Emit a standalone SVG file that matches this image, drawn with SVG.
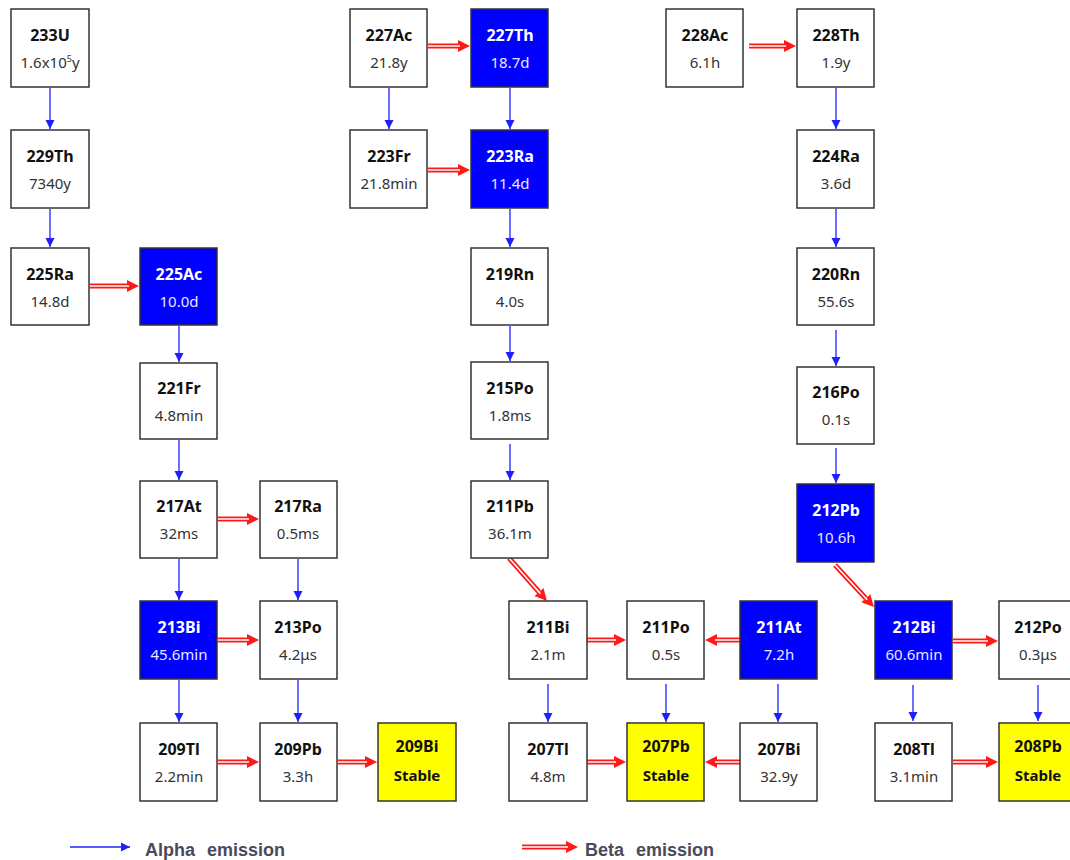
<svg xmlns="http://www.w3.org/2000/svg" width="1070" height="860" viewBox="0 0 1070 860">
<style>
.box{fill:#fff;stroke:#333;stroke-width:1.5}
.blue{fill:#0000ff}
.yel{fill:#ffff00}
text{font-family:"Noto Sans","DejaVu Sans",sans-serif;text-anchor:middle}
.lbl{font-size:16px;font-weight:bold;fill:#111}
.hl{font-size:15px;fill:#333}
.st{font-size:15px;font-weight:bold;fill:#111}
.w .lbl{fill:#fff}
.w .hl{fill:#e8e8ff}
.a{stroke:#2020ff;stroke-width:1.3;fill:none;marker-end:url(#ah)}
.b{stroke:#ff1a1a;stroke-width:5;fill:none;marker-end:url(#bh)}
.bw{stroke:#fff;stroke-width:1.5;fill:none}
.leg{font-family:"Liberation Sans","DejaVu Sans",sans-serif;font-size:18px;font-weight:bold;fill:#4a4a5c;text-anchor:start;word-spacing:7px}
</style>
<defs>
<marker id="ah" markerUnits="userSpaceOnUse" markerWidth="10" markerHeight="10" refX="9" refY="5" orient="auto"><path d="M0,0.5 L9,5 L0,9.5 z" fill="#2020ff"/></marker>
<marker id="bh" markerUnits="userSpaceOnUse" markerWidth="13" markerHeight="13" refX="0" refY="6.5" orient="auto"><path d="M0,0.5 L12,6.5 L0,12.5 z" fill="#ff1a1a"/></marker>
</defs>
<rect width="1070" height="860" fill="#fff"/>

<g id="connectors">
<path class="a" d="M50,88 V129"/>
<path class="a" d="M50,209 V247"/>
<path class="a" d="M179,326 V362"/>
<path class="a" d="M179,440 V480"/>
<path class="a" d="M179,559 V600"/>
<path class="a" d="M298,559 V600"/>
<path class="a" d="M179,680 V722"/>
<path class="a" d="M298,680 V722"/>
<path class="a" d="M389,88 V129"/>
<path class="a" d="M510,88 V129"/>
<path class="a" d="M510,209 V247"/>
<path class="a" d="M510,326 V361"/>
<path class="a" d="M510,444 V480"/>
<path class="a" d="M548,684 V722"/>
<path class="a" d="M666,684 V722"/>
<path class="a" d="M778,684 V722"/>
<path class="a" d="M836,88 V129"/>
<path class="a" d="M836,209 V247"/>
<path class="a" d="M836,330 V366"/>
<path class="a" d="M836,448 V483"/>
<path class="a" d="M913,685 V721"/>
<path class="a" d="M1038,685 V721"/>

<path class="b" d="M90,286 H127"/><path class="bw" d="M90,286 H129"/>
<path class="b" d="M428,46 H458"/><path class="bw" d="M428,46 H460"/>
<path class="b" d="M428,170 H458"/><path class="bw" d="M428,170 H460"/>
<path class="b" d="M749,46 H784"/><path class="bw" d="M749,46 H786"/>
<path class="b" d="M218,519 H247"/><path class="bw" d="M218,519 H249"/>
<path class="b" d="M218,640 H247"/><path class="bw" d="M218,640 H249"/>
<path class="b" d="M218,762 H247"/><path class="bw" d="M218,762 H249"/>
<path class="b" d="M338,762 H365"/><path class="bw" d="M338,762 H367"/>
<path class="b" d="M584,640 H614"/><path class="bw" d="M584,640 H616"/>
<path class="b" d="M740,640 H717"/><path class="bw" d="M740,640 H715"/>
<path class="b" d="M584,762 H614"/><path class="bw" d="M584,762 H616"/>
<path class="b" d="M740,762 H717"/><path class="bw" d="M740,762 H715"/>
<path class="b" d="M953,641 H986"/><path class="bw" d="M953,641 H988"/>
<path class="b" d="M953,762 H986"/><path class="bw" d="M953,762 H988"/>
<path class="b" d="M509,558 L539,592"/><path class="bw" d="M509,558 L540.5,593.7"/>
<path class="b" d="M835,565 L865.8,598.2"/><path class="bw" d="M835,565 L867.2,599.7"/>
</g>

<g id="n233U"><rect class="box" x="11" y="9" width="78" height="78"/><text class="lbl" x="50" y="41">233U</text><text class="hl" x="50" y="68">1.6x10<tspan font-size="9" dy="-6">5</tspan><tspan dy="6">y</tspan></text></g>
<g id="n229Th"><rect class="box" x="11" y="130" width="78" height="78"/><text class="lbl" x="50" y="162">229Th</text><text class="hl" x="50" y="189">7340y</text></g>
<g id="n225Ra"><rect class="box" x="11" y="248" width="78" height="77"/><text class="lbl" x="50" y="280">225Ra</text><text class="hl" x="50" y="307">14.8d</text></g>
<g id="n225Ac" class="w"><rect class="box blue" x="140" y="248" width="77" height="77"/><text class="lbl" x="179" y="280">225Ac</text><text class="hl" x="179" y="307">10.0d</text></g>
<g id="n221Fr"><rect class="box" x="140" y="363" width="77" height="76"/><text class="lbl" x="179" y="394">221Fr</text><text class="hl" x="179" y="421">4.8min</text></g>
<g id="n217At"><rect class="box" x="140" y="481" width="77" height="77"/><text class="lbl" x="179" y="512">217At</text><text class="hl" x="179" y="539">32ms</text></g>
<g id="n213Bi" class="w"><rect class="box blue" x="140" y="601" width="77" height="78"/><text class="lbl" x="179" y="633">213Bi</text><text class="hl" x="179" y="660">45.6min</text></g>
<g id="n209Tl"><rect class="box" x="140" y="723" width="77" height="78"/><text class="lbl" x="179" y="755">209Tl</text><text class="hl" x="179" y="782">2.2min</text></g>
<g id="n217Ra"><rect class="box" x="260" y="481" width="77" height="77"/><text class="lbl" x="298" y="512">217Ra</text><text class="hl" x="298" y="539">0.5ms</text></g>
<g id="n213Po"><rect class="box" x="260" y="601" width="77" height="78"/><text class="lbl" x="298" y="633">213Po</text><text class="hl" x="298" y="660">4.2μs</text></g>
<g id="n209Pb"><rect class="box" x="260" y="723" width="77" height="78"/><text class="lbl" x="298" y="755">209Pb</text><text class="hl" x="298" y="782">3.3h</text></g>
<g id="n209Bi"><rect class="box yel" x="378" y="723" width="78" height="78"/><text class="lbl" x="417" y="752">209Bi</text><text class="st" x="417" y="781">Stable</text></g>

<g id="n227Ac"><rect class="box" x="350" y="9" width="77" height="78"/><text class="lbl" x="389" y="41">227Ac</text><text class="hl" x="389" y="68">21.8y</text></g>
<g id="n223Fr"><rect class="box" x="350" y="130" width="77" height="78"/><text class="lbl" x="389" y="162">223Fr</text><text class="hl" x="389" y="189">21.8min</text></g>
<g id="n227Th" class="w"><rect class="box blue" x="471" y="9" width="77" height="78"/><text class="lbl" x="510" y="41">227Th</text><text class="hl" x="510" y="68">18.7d</text></g>
<g id="n223Ra" class="w"><rect class="box blue" x="471" y="130" width="77" height="78"/><text class="lbl" x="510" y="162">223Ra</text><text class="hl" x="510" y="189">11.4d</text></g>
<g id="n219Rn"><rect class="box" x="471" y="248" width="77" height="77"/><text class="lbl" x="510" y="280">219Rn</text><text class="hl" x="510" y="307">4.0s</text></g>
<g id="n215Po"><rect class="box" x="471" y="362" width="77" height="77"/><text class="lbl" x="510" y="394">215Po</text><text class="hl" x="510" y="421">1.8ms</text></g>
<g id="n211Pb"><rect class="box" x="471" y="481" width="77" height="77"/><text class="lbl" x="510" y="512">211Pb</text><text class="hl" x="510" y="539">36.1m</text></g>
<g id="n211Bi"><rect class="box" x="509" y="601" width="78" height="78"/><text class="lbl" x="548" y="633">211Bi</text><text class="hl" x="548" y="660">2.1m</text></g>
<g id="n207Tl"><rect class="box" x="509" y="723" width="78" height="78"/><text class="lbl" x="548" y="755">207Tl</text><text class="hl" x="548" y="782">4.8m</text></g>
<g id="n211Po"><rect class="box" x="627" y="601" width="77" height="78"/><text class="lbl" x="666" y="633">211Po</text><text class="hl" x="666" y="660">0.5s</text></g>
<g id="n207Pb"><rect class="box yel" x="627" y="723" width="77" height="78"/><text class="lbl" x="666" y="752">207Pb</text><text class="st" x="666" y="781">Stable</text></g>
<g id="n211At" class="w"><rect class="box blue" x="740" y="601" width="77" height="78"/><text class="lbl" x="779" y="633">211At</text><text class="hl" x="779" y="660">7.2h</text></g>
<g id="n207Bi"><rect class="box" x="740" y="723" width="77" height="78"/><text class="lbl" x="779" y="755">207Bi</text><text class="hl" x="779" y="782">32.9y</text></g>

<g id="n228Ac"><rect class="box" x="666" y="9" width="77" height="78"/><text class="lbl" x="705" y="41">228Ac</text><text class="hl" x="705" y="68">6.1h</text></g>
<g id="n228Th"><rect class="box" x="797" y="9" width="77" height="78"/><text class="lbl" x="836" y="41">228Th</text><text class="hl" x="836" y="68">1.9y</text></g>
<g id="n224Ra"><rect class="box" x="797" y="130" width="77" height="78"/><text class="lbl" x="836" y="162">224Ra</text><text class="hl" x="836" y="189">3.6d</text></g>
<g id="n220Rn"><rect class="box" x="797" y="248" width="77" height="77"/><text class="lbl" x="836" y="280">220Rn</text><text class="hl" x="836" y="307">55.6s</text></g>
<g id="n216Po"><rect class="box" x="797" y="367" width="77" height="77"/><text class="lbl" x="836" y="398">216Po</text><text class="hl" x="836" y="425">0.1s</text></g>
<g id="n212Pb" class="w"><rect class="box blue" x="797" y="484" width="77" height="78"/><text class="lbl" x="836" y="516">212Pb</text><text class="hl" x="836" y="543">10.6h</text></g>
<g id="n212Bi" class="w"><rect class="box blue" x="875" y="601" width="77" height="78"/><text class="lbl" x="914" y="633">212Bi</text><text class="hl" x="914" y="660">60.6min</text></g>
<g id="n208Tl"><rect class="box" x="875" y="723" width="77" height="78"/><text class="lbl" x="914" y="755">208Tl</text><text class="hl" x="914" y="782">3.1min</text></g>
<g id="n212Po"><rect class="box" x="999" y="601" width="78" height="78"/><text class="lbl" x="1038" y="633">212Po</text><text class="hl" x="1038" y="660">0.3μs</text></g>
<g id="n208Pb"><rect class="box yel" x="999" y="723" width="78" height="78"/><text class="lbl" x="1038" y="752">208Pb</text><text class="st" x="1038" y="781">Stable</text></g>

<g id="legend">
<path class="a" d="M70,847 H130"/>
<text class="leg" x="145" y="856">Alpha emission</text>
<path class="b" d="M522,847 H566"/><path class="bw" d="M522,847 H568"/>
<text class="leg" x="585" y="856">Beta emission</text>
</g>
</svg>
